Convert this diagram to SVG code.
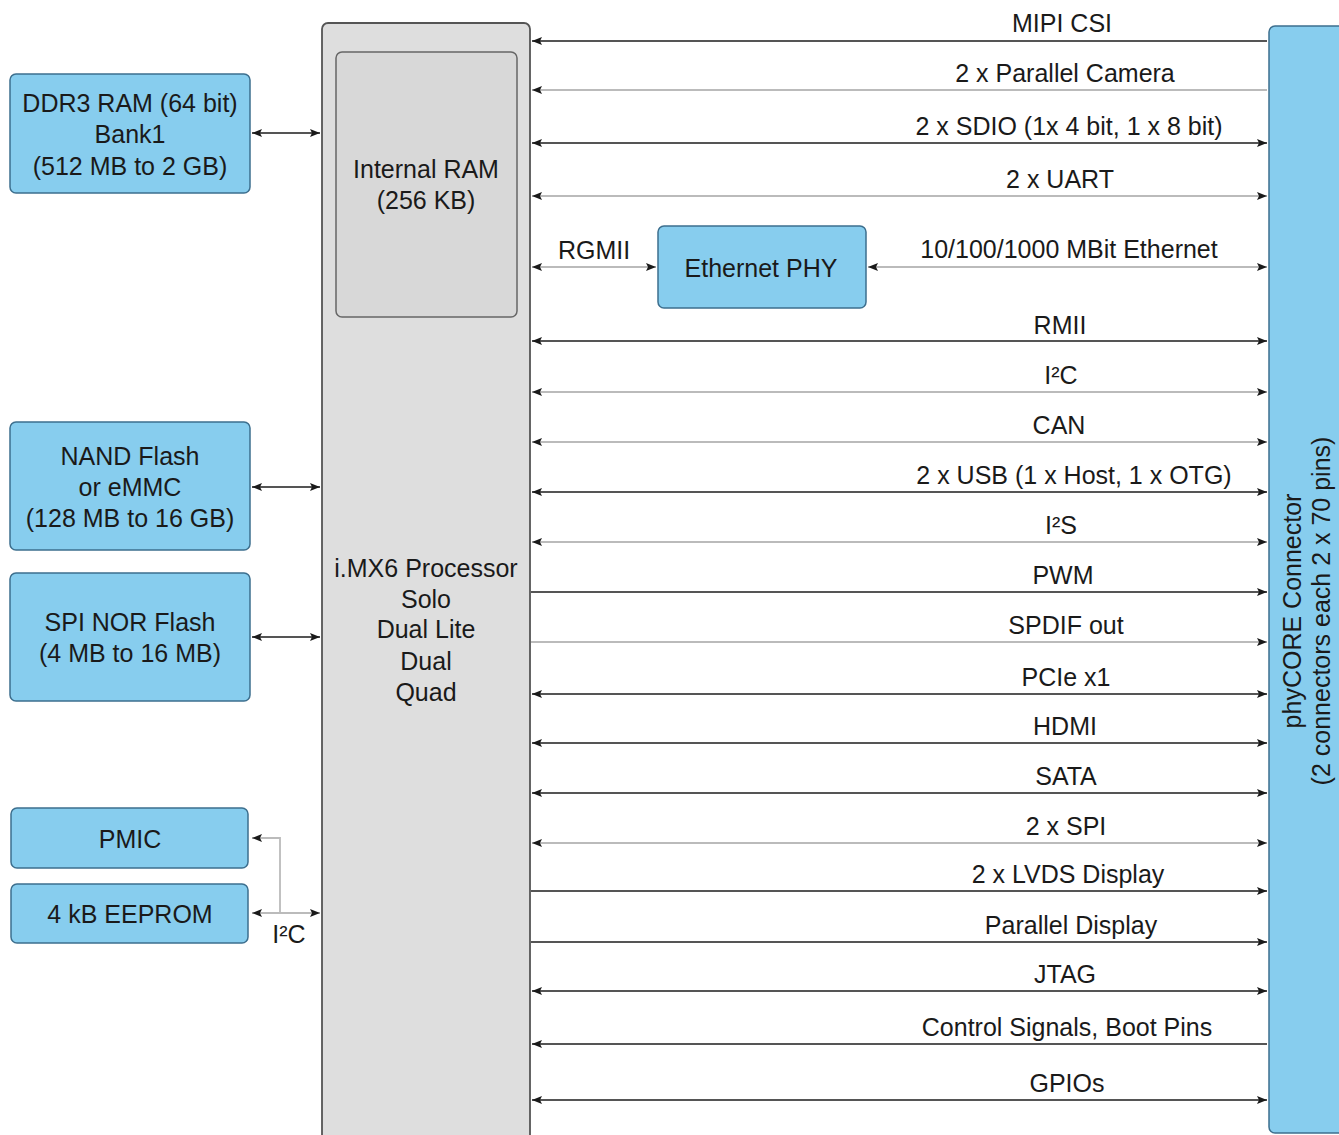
<svg xmlns="http://www.w3.org/2000/svg" width="1339" height="1135" viewBox="0 0 1339 1135">
<defs>
<style>
text{font-family:"Liberation Sans",Arial,sans-serif;font-size:25px;fill:#1a1a1a;text-anchor:middle}
.blue{fill:#87cdee;stroke:#3d6f8e;stroke-width:1.5}
.proc{fill:#dedede;stroke:#555;stroke-width:1.8}
.iram{fill:#d8d8d8;stroke:#666;stroke-width:1.5}
.d{stroke:#555;stroke-width:1.8;fill:none}
.l{stroke:#bbb;stroke-width:1.8;fill:none}
.b{marker-start:url(#a);marker-end:url(#a)}
.r{marker-end:url(#a)}
.s{marker-start:url(#a)}
</style>
<marker id="a" viewBox="0 0 10 8" refX="10" refY="4" markerWidth="10" markerHeight="8" markerUnits="userSpaceOnUse" orient="auto-start-reverse">
<path d="M0,0 L10,4 L0,8 L2,4 z" fill="#1a1a1a"/>
</marker>
</defs>
<g id="processor">
<rect class="proc" x="322" y="23" width="208" height="1130" rx="6"/>
<text x="426" y="577">i.MX6 Processor</text>
<text x="426" y="608">Solo</text>
<text x="426" y="638">Dual Lite</text>
<text x="426" y="670">Dual</text>
<text x="426" y="701">Quad</text>
</g>
<g id="internal-ram">
<rect class="iram" x="336" y="52" width="181" height="265" rx="6"/>
<text x="426" y="178">Internal RAM</text>
<text x="426" y="209">(256 KB)</text>
</g>
<g id="ddr3">
<rect class="blue" x="10" y="74" width="240" height="119" rx="6"/>
<text x="130" y="112">DDR3 RAM (64 bit)</text>
<text x="130" y="143">Bank1</text>
<text x="130" y="175">(512 MB to 2 GB)</text>
</g>
<g id="nand">
<rect class="blue" x="10" y="422" width="240" height="128" rx="6"/>
<text x="130" y="465">NAND Flash</text>
<text x="130" y="496">or eMMC</text>
<text x="130" y="527">(128 MB to 16 GB)</text>
</g>
<g id="spinor">
<rect class="blue" x="10" y="573" width="240" height="128" rx="6"/>
<text x="130" y="631">SPI NOR Flash</text>
<text x="130" y="662">(4 MB to 16 MB)</text>
</g>
<g id="pmic">
<rect class="blue" x="11" y="808" width="237" height="60" rx="6"/>
<text x="130" y="848">PMIC</text>
</g>
<g id="eeprom">
<rect class="blue" x="11" y="884" width="237" height="59" rx="6"/>
<text x="130" y="923">4 kB EEPROM</text>
</g>
<g id="ethernet-phy">
<rect class="blue" x="658" y="226" width="208" height="82" rx="6"/>
<text x="761" y="277">Ethernet PHY</text>
</g>
<g id="phycore">
<rect class="blue" x="1269" y="26" width="90" height="1107" rx="6"/>
<text transform="translate(1301,611) rotate(-90)">phyCORE Connector</text>
<text transform="translate(1330,611) rotate(-90)">(2 connectors  each 2 x 70 pins)</text>
</g>
<g id="connectors">
<path class="d b" d="M252,133 H320"/>
<path class="d b" d="M252,487 H320"/>
<path class="d b" d="M252,637 H320"/>
<path class="l b" d="M252,913 H320"/>
<path class="l r" d="M280,913 V838 H252"/>
<path class="d s" d="M532,41 H1267"/>
<path class="l s" d="M532,90 H1267"/>
<path class="d b" d="M532,143 H1267"/>
<path class="l b" d="M532,196 H1267"/>
<path class="l b" d="M532,267 H656"/>
<path class="l b" d="M868,267 H1267"/>
<path class="d b" d="M532,341 H1267"/>
<path class="l b" d="M532,392 H1267"/>
<path class="l b" d="M532,442 H1267"/>
<path class="d b" d="M532,492 H1267"/>
<path class="l b" d="M532,542 H1267"/>
<path class="d r" d="M531,592 H1267"/>
<path class="l r" d="M531,642 H1267"/>
<path class="d b" d="M532,694 H1267"/>
<path class="d b" d="M532,743 H1267"/>
<path class="d b" d="M532,793 H1267"/>
<path class="l b" d="M532,843 H1267"/>
<path class="d r" d="M531,891 H1267"/>
<path class="d r" d="M531,942 H1267"/>
<path class="d b" d="M532,991 H1267"/>
<path class="d s" d="M532,1044 H1267"/>
<path class="d b" d="M532,1100 H1267"/>
</g>
<g id="labels">
<text x="289" y="943">I²C</text>
<text x="594" y="259">RGMII</text>
<text x="1062" y="32">MIPI CSI</text>
<text x="1065" y="82">2 x Parallel Camera</text>
<text x="1069" y="135">2 x SDIO (1x 4 bit, 1 x 8 bit)</text>
<text x="1060" y="188">2 x UART</text>
<text x="1069" y="258">10/100/1000 MBit Ethernet</text>
<text x="1060" y="334">RMII</text>
<text x="1061" y="384">I²C</text>
<text x="1059" y="434">CAN</text>
<text x="1074" y="484">2 x USB (1 x Host, 1 x OTG)</text>
<text x="1061" y="534">I²S</text>
<text x="1063" y="584">PWM</text>
<text x="1066" y="634">SPDIF out</text>
<text x="1066" y="686">PCIe x1</text>
<text x="1065" y="735">HDMI</text>
<text x="1066" y="785">SATA</text>
<text x="1066" y="835">2 x SPI</text>
<text x="1068" y="883">2 x LVDS Display</text>
<text x="1071" y="934">Parallel Display</text>
<text x="1065" y="983">JTAG</text>
<text x="1067" y="1036">Control Signals, Boot Pins</text>
<text x="1067" y="1092">GPIOs</text>
</g>
</svg>
